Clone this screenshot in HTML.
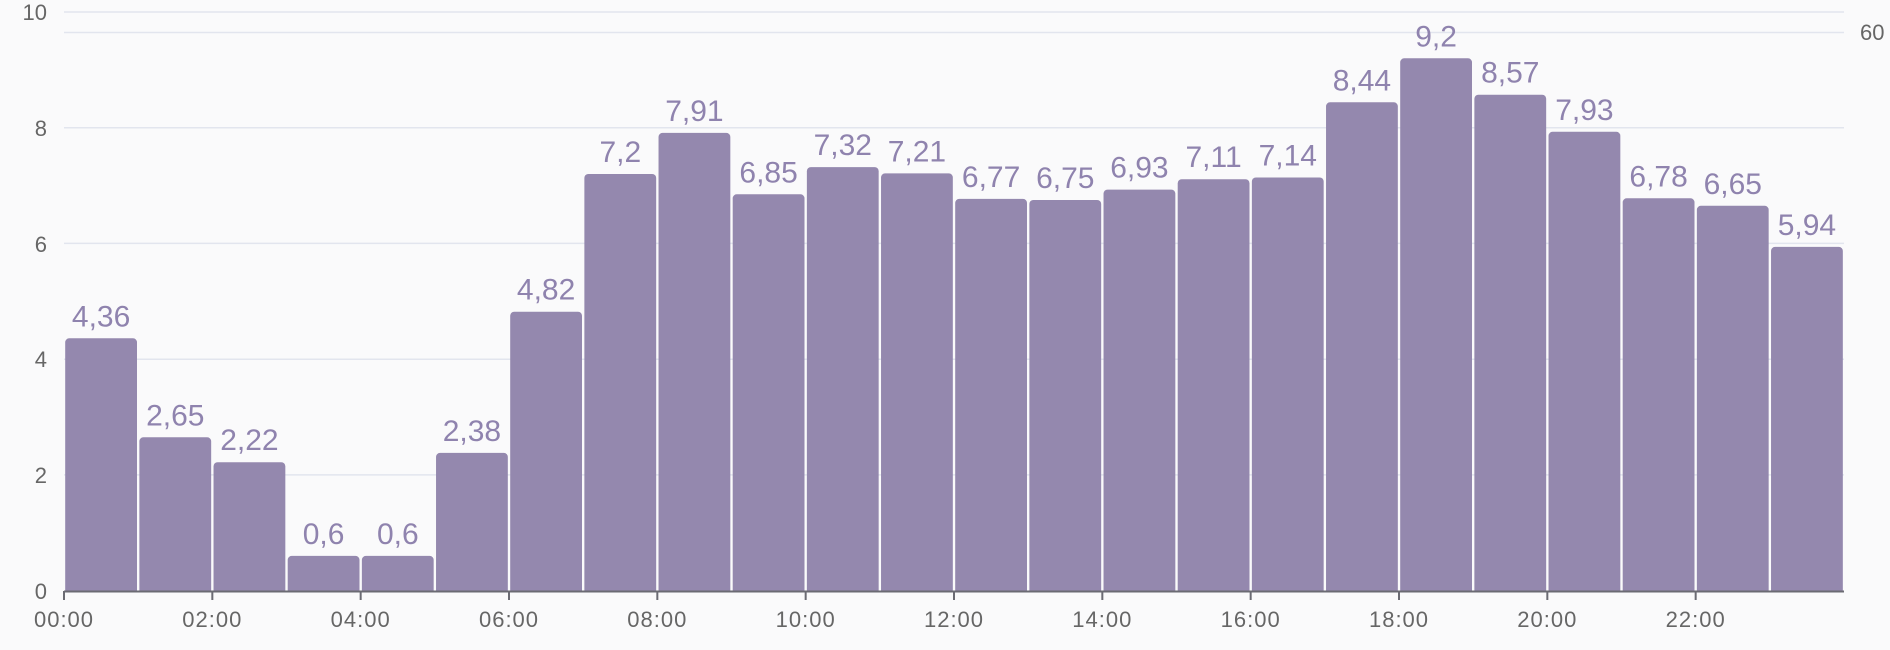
<!DOCTYPE html>
<html><head><style>body{margin:0;background:#fafafb;overflow:hidden}svg{display:block;overflow:hidden}</style></head><body>
<svg width="1890" height="650" xmlns="http://www.w3.org/2000/svg" font-family="Liberation Sans, sans-serif">
<defs><clipPath id="c"><rect x="0" y="0" width="1890" height="591"/></clipPath></defs>
<rect width="1890" height="650" fill="#fafafb"/>
<g stroke="#e2e5ee" stroke-width="1.5">
<line x1="64" x2="1844" y1="12" y2="12"/>
<line x1="64" x2="1844" y1="32.5" y2="32.5"/>
<line x1="64" x2="1844" y1="127.7" y2="127.7"/>
<line x1="64" x2="1844" y1="243.4" y2="243.4"/>
<line x1="64" x2="1844" y1="359.2" y2="359.2"/>
<line x1="64" x2="1844" y1="474.9" y2="474.9"/>
</g>
<g fill="#666" font-size="22" text-anchor="end">
<text x="47" y="20">10</text><text x="47" y="136">8</text><text x="47" y="252">6</text>
<text x="47" y="367">4</text><text x="47" y="483">2</text><text x="47" y="599">0</text>
</g>
<text x="1860" y="40" fill="#666" font-size="22">60</text>
<g fill="#9488ae" clip-path="url(#c)">
<rect x="65.2" y="338.3" width="71.8" height="260" rx="4"/>
<rect x="139.37" y="437.3" width="71.8" height="260" rx="4"/>
<rect x="213.53" y="462.2" width="71.8" height="260" rx="4"/>
<rect x="287.7" y="555.9" width="71.8" height="260" rx="4"/>
<rect x="361.87" y="555.9" width="71.8" height="260" rx="4"/>
<rect x="436.03" y="452.9" width="71.8" height="260" rx="4"/>
<rect x="510.2" y="311.7" width="71.8" height="300" rx="4"/>
<rect x="584.37" y="174.0" width="71.8" height="430" rx="4"/>
<rect x="658.53" y="132.9" width="71.8" height="470" rx="4"/>
<rect x="732.7" y="194.3" width="71.8" height="420" rx="4"/>
<rect x="806.87" y="167.1" width="71.8" height="430" rx="4"/>
<rect x="881.03" y="173.4" width="71.8" height="430" rx="4"/>
<rect x="955.2" y="198.9" width="71.8" height="420" rx="4"/>
<rect x="1029.37" y="200.0" width="71.8" height="420" rx="4"/>
<rect x="1103.53" y="189.6" width="71.8" height="420" rx="4"/>
<rect x="1177.7" y="179.2" width="71.8" height="420" rx="4"/>
<rect x="1251.87" y="177.5" width="71.8" height="420" rx="4"/>
<rect x="1326.03" y="102.3" width="71.8" height="500" rx="4"/>
<rect x="1400.2" y="58.3" width="71.8" height="540" rx="4"/>
<rect x="1474.37" y="94.7" width="71.8" height="500" rx="4"/>
<rect x="1548.53" y="131.8" width="71.8" height="470" rx="4"/>
<rect x="1622.7" y="198.3" width="71.8" height="420" rx="4"/>
<rect x="1696.87" y="205.8" width="71.8" height="420" rx="4"/>
<rect x="1771.03" y="246.9" width="71.8" height="360" rx="4"/>
</g>
<g fill="#8f83ae" font-size="30" text-anchor="middle">
<text x="101.1" y="326.3">4,36</text>
<text x="175.3" y="425.3">2,65</text>
<text x="249.4" y="450.2">2,22</text>
<text x="323.6" y="543.9">0,6</text>
<text x="397.8" y="543.9">0,6</text>
<text x="471.9" y="440.9">2,38</text>
<text x="546.1" y="299.7">4,82</text>
<text x="620.3" y="162.0">7,2</text>
<text x="694.4" y="120.9">7,91</text>
<text x="768.6" y="182.3">6,85</text>
<text x="842.8" y="155.1">7,32</text>
<text x="916.9" y="161.4">7,21</text>
<text x="991.1" y="186.9">6,77</text>
<text x="1065.3" y="188.0">6,75</text>
<text x="1139.4" y="177.6">6,93</text>
<text x="1213.6" y="167.2">7,11</text>
<text x="1287.8" y="165.5">7,14</text>
<text x="1361.9" y="90.3">8,44</text>
<text x="1436.1" y="46.3">9,2</text>
<text x="1510.3" y="82.7">8,57</text>
<text x="1584.4" y="119.8">7,93</text>
<text x="1658.6" y="186.3">6,78</text>
<text x="1732.8" y="193.8">6,65</text>
<text x="1806.9" y="234.9">5,94</text>
</g>
<line x1="64" x2="1844" y1="591.5" y2="591.5" stroke="#6b6b73" stroke-width="2"/>
<g stroke="#6b6b73" stroke-width="2">
<line x1="64" x2="64" y1="591" y2="600"/><line x1="212.33" x2="212.33" y1="591" y2="600"/>
<line x1="360.67" x2="360.67" y1="591" y2="600"/><line x1="509" x2="509" y1="591" y2="600"/>
<line x1="657.33" x2="657.33" y1="591" y2="600"/><line x1="805.67" x2="805.67" y1="591" y2="600"/>
<line x1="954" x2="954" y1="591" y2="600"/><line x1="1102.33" x2="1102.33" y1="591" y2="600"/>
<line x1="1250.67" x2="1250.67" y1="591" y2="600"/><line x1="1399" x2="1399" y1="591" y2="600"/>
<line x1="1547.33" x2="1547.33" y1="591" y2="600"/><line x1="1695.67" x2="1695.67" y1="591" y2="600"/>
</g>
<g fill="#666" font-size="22" text-anchor="middle" letter-spacing="1">
<text x="64" y="627">00:00</text><text x="212.33" y="627">02:00</text><text x="360.67" y="627">04:00</text>
<text x="509" y="627">06:00</text><text x="657.33" y="627">08:00</text><text x="805.67" y="627">10:00</text>
<text x="954" y="627">12:00</text><text x="1102.33" y="627">14:00</text><text x="1250.67" y="627">16:00</text>
<text x="1399" y="627">18:00</text><text x="1547.33" y="627">20:00</text><text x="1695.67" y="627">22:00</text>
</g>
</svg>
</body></html>
